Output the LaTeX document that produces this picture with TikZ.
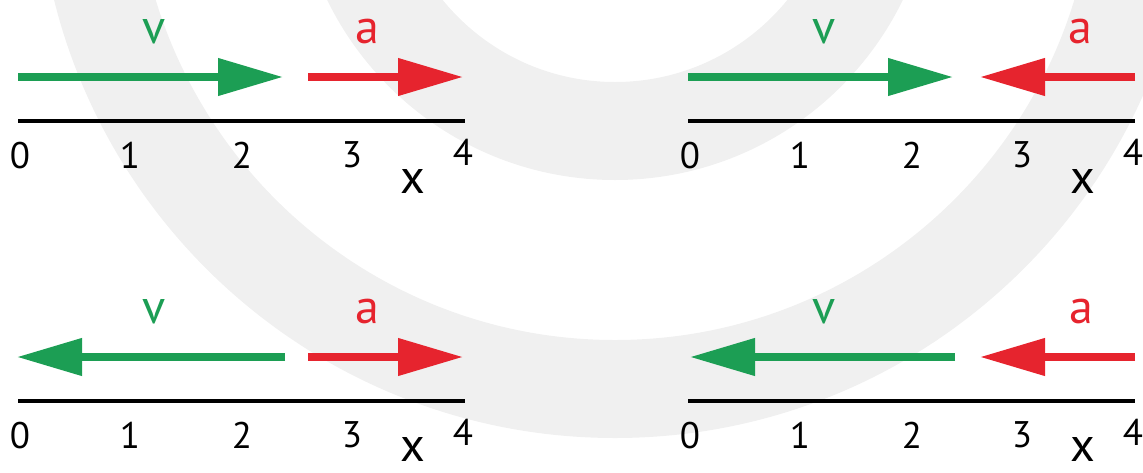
\documentclass[tikz,border=0pt]{standalone}
\usepackage{fontspec}
\setmainfont{PT Sans}
\usetikzlibrary{arrows.meta}
\definecolor{vgreen}{RGB}{28,158,84}
\definecolor{ared}{RGB}{230,36,46}
\definecolor{wmark}{RGB}{240,240,240}
\tikzset{
  vec/.style={line width=7.5pt,-{Triangle[length=65pt,width=36pt]}},
  vvec/.style={vec,vgreen},
  avec/.style={vec,ared},
  axisline/.style={line width=4pt,black},
  tick/.style={anchor=base,inner sep=0pt,font=\fontsize{37}{39}\selectfont},
  biglbl/.style={anchor=base,inner sep=0pt,font=\fontsize{48}{50}\selectfont},
}
\begin{document}
\begin{tikzpicture}[x=1pt,y=-1pt]
\useasboundingbox (0,0) rectangle (1143,472);
\begin{scope}
\clip (0,0) rectangle (1143,472);
\fill[wmark,even odd rule] (615,-140) circle[radius=578pt] (615,-140) circle[radius=480pt];
\fill[wmark,even odd rule] (615,-140) circle[radius=320pt] (615,-140) circle[radius=222pt];
\end{scope}
% panels
\foreach \px/\py/\xb/\nm in {0/0/193/A,670/0/193/B,0/280/181/C,670/280/181/D}{
  \begin{scope}[shift={(\px,\py)}]
    \coordinate (\nm ax0) at (18,121);
    \coordinate (\nm ax4) at (465,121);
    \draw[axisline] (\nm ax0) -- (\nm ax4);
    \node[tick] (\nm t0) at (20,168) {0};
    \node[tick] (\nm t1) at (130,168) {1};
    \node[tick] (\nm t2) at (242,168) {2};
    \node[tick] (\nm t3) at (352,167) {3};
    \node[tick] (\nm t4) at (463,165) {4};
    \node[biglbl] (\nm x) at (413,\xb) {x};
    \node[biglbl,vgreen] (\nm v) at (154,43) {v};
  \end{scope}
}
% labels a
\node[biglbl,ared] (Aa) at (367,43) {a};
\node[biglbl,ared] (Ba) at (1080,43) {a};
\node[biglbl,ared] (Ca) at (367,323) {a};
\node[biglbl,ared] (Da) at (1081,323) {a};
% vector end points
\coordinate (Avs) at (18,77);   \coordinate (Ave) at (283,77);
\coordinate (Bvs) at (688,77);  \coordinate (Bve) at (953,77);
\coordinate (Cvs) at (285,357); \coordinate (Cve) at (17,357);
\coordinate (Dvs) at (955,357); \coordinate (Dve) at (690,357);
\coordinate (Aas) at (308,77);   \coordinate (Aae) at (463,77);
\coordinate (Bas) at (1135,77);  \coordinate (Bae) at (980,77);
\coordinate (Cas) at (308,357);  \coordinate (Cae) at (463,357);
\coordinate (Das) at (1135,357); \coordinate (Dae) at (980,357);
\foreach \nm in {A,B,C,D}{
  \draw[vvec] (\nm vs) -- (\nm ve);
  \draw[avec] (\nm as) -- (\nm ae);
}
\end{tikzpicture}
\end{document}
